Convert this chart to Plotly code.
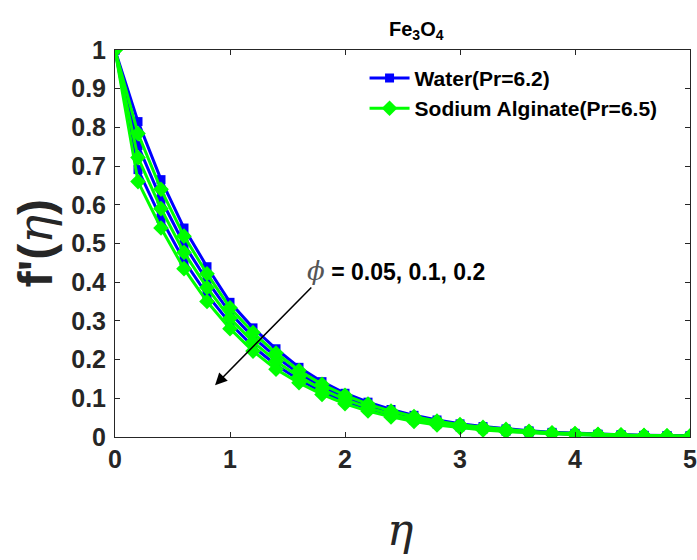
import plotly.graph_objects as go

eta = [round(0.2 * i, 1) for i in range(26)]

# Water (Pr=6.2), phi = 0.05, 0.1, 0.2
water_phi005 = [1, 0.815, 0.665, 0.54, 0.44, 0.348, 0.282, 0.228, 0.18, 0.143, 0.113, 0.09, 0.071, 0.056, 0.044,
                0.034, 0.027, 0.021, 0.016, 0.012, 0.0095, 0.0075, 0.006, 0.0045, 0.0035, 0.003]
water_phi01 = [1, 0.753, 0.615, 0.498, 0.404, 0.321, 0.258, 0.207, 0.164, 0.13, 0.102, 0.081, 0.063, 0.05, 0.039,
               0.03, 0.023, 0.018, 0.014, 0.0105, 0.008, 0.0063, 0.005, 0.0038, 0.0029, 0.0024]
water_phi02 = [1, 0.691, 0.565, 0.456, 0.368, 0.294, 0.234, 0.186, 0.148, 0.117, 0.091, 0.072, 0.056, 0.043, 0.034,
               0.026, 0.02, 0.015, 0.012, 0.009, 0.0067, 0.005, 0.004, 0.003, 0.0023, 0.0018]
# Sodium Alginate (Pr=6.5), phi = 0.05, 0.1, 0.2
sa_phi005 = [1, 0.784, 0.64, 0.519, 0.422, 0.334, 0.27, 0.217, 0.172, 0.136, 0.108, 0.085, 0.067, 0.053, 0.041,
             0.032, 0.025, 0.0196, 0.015, 0.011, 0.009, 0.007, 0.0055, 0.0041, 0.0032, 0.0027]
sa_phi01 = [1, 0.722, 0.59, 0.477, 0.386, 0.307, 0.246, 0.196, 0.156, 0.123, 0.097, 0.076, 0.059, 0.046, 0.036,
            0.028, 0.022, 0.017, 0.013, 0.0095, 0.0075, 0.0057, 0.0045, 0.0034, 0.0026, 0.0021]
sa_phi02 = [1, 0.66, 0.54, 0.435, 0.35, 0.28, 0.222, 0.175, 0.14, 0.11, 0.086, 0.067, 0.052, 0.04, 0.031,
            0.024, 0.018, 0.014, 0.011, 0.008, 0.006, 0.0045, 0.0035, 0.0027, 0.002, 0.0015]

x_ticks = [0, 1, 2, 3, 4, 5]
y_ticks = [0, 0.1, 0.2, 0.3, 0.4, 0.5, 0.6, 0.7, 0.8, 0.9, 1]
y_tick_text = ["0", "0.1", "0.2", "0.3", "0.4", "0.5", "0.6", "0.7", "0.8", "0.9", "1"]

BLUE = "#0000FF"
GREEN = "#00FF00"
TXT = "#262626"
FONT = "Liberation Sans, Arial, sans-serif"

fig = go.Figure()
water = [water_phi005, water_phi01, water_phi02]
sa = [sa_phi005, sa_phi01, sa_phi02]
for i, ys in enumerate(water):
    fig.add_trace(go.Scatter(x=eta, y=ys, mode="lines+markers", name="Water(Pr=6.2)",
                             showlegend=(i == 0), legendrank=1,
                             line=dict(color=BLUE, width=3),
                             marker=dict(symbol="square", size=9, color=BLUE)))
for i, ys in enumerate(sa):
    fig.add_trace(go.Scatter(x=eta, y=ys, mode="lines+markers", name="Sodium Alginate(Pr=6.5)",
                             showlegend=(i == 0), legendrank=2,
                             line=dict(color=GREEN, width=3),
                             marker=dict(symbol="diamond", size=12, color=GREEN)))

axis_common = dict(showline=True, linecolor=TXT, linewidth=1, mirror="ticks", automargin=False,
                   ticks="inside", ticklen=5, tickcolor=TXT, showgrid=False, zeroline=False,
                   ticklabeloverflow="allow",
                   tickfont=dict(family=FONT, size=25, color=TXT, weight="bold"))

fig.update_xaxes(range=[0, 5], tickvals=x_ticks, ticktext=[str(t) for t in x_ticks], **axis_common)
fig.update_yaxes(range=[0, 1], tickvals=y_ticks, ticktext=y_tick_text, ticklabelstandoff=3, **axis_common)

# axis labels and title
fig.add_annotation(x=-0.139, y=0.501, xref="paper", yref="paper", showarrow=False, textangle=-90,
                   xanchor="center", yanchor="middle",
                   text="<b>f'(</b><span style='font-family:DejaVu Serif;font-style:italic;font-weight:normal'>η</span><b>)</b>",
                   font=dict(family=FONT, size=48, color=TXT))
fig.add_annotation(x=0.496, y=-0.24, xref="paper", yref="paper", showarrow=False,
                   xanchor="center", yanchor="middle",
                   text="<i>η</i>", font=dict(family="DejaVu Serif, serif", size=44, color=TXT))
fig.add_annotation(x=0.525, y=1.05, xref="paper", yref="paper", showarrow=False,
                   xanchor="center", yanchor="middle",
                   text="<b>Fe<sub>3</sub>O<sub>4</sub></b>", font=dict(family=FONT, size=20, color="#000000"))

# phi arrow
fig.add_annotation(x=0.87, y=0.134, ax=1.72, ay=0.39, xref="x", yref="y", axref="x", ayref="y",
                   showarrow=True, arrowhead=2, arrowsize=1.6, arrowwidth=1.5, arrowcolor="#000000", text="")
fig.add_annotation(x=1.652, y=0.428, xref="x", yref="y", xanchor="left", yanchor="middle", showarrow=False,
                   text="<span style='font-family:DejaVu Serif;font-style:italic;font-weight:normal;color:#555;font-size:26px'>ϕ</span> <b>= 0.05, 0.1, 0.2</b>",
                   font=dict(family=FONT, size=23, color="#000000"))

fig.update_layout(
    width=697, height=560,
    margin=dict(l=115, r=7, t=50, b=123, autoexpand=False),
    paper_bgcolor="white", plot_bgcolor="white",
    legend=dict(x=0.434, y=0.98, xanchor="left", yanchor="top", bgcolor="rgba(255,255,255,0)",
                borderwidth=0, tracegroupgap=0, itemwidth=40,
                font=dict(family=FONT, size=21, color="#000000", weight="bold")),
    showlegend=True,
)

fig.write_html("out.html", config={"displayModeBar": False},
               post_script="document.body.style.margin='0';document.body.style.overflow='hidden';")
